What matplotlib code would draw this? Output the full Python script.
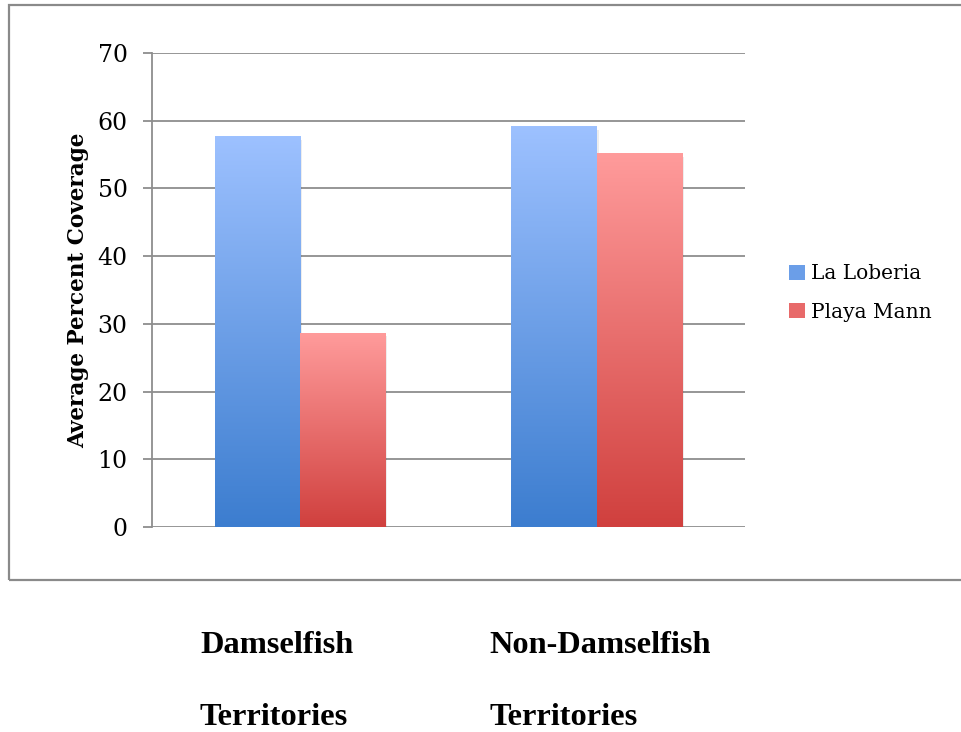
import numpy as np
import matplotlib
matplotlib.use("Agg")
import matplotlib.pyplot as plt
from matplotlib.patches import Rectangle, Patch
from matplotlib.colors import LinearSegmentedColormap

categories = ["Damselfish\n\nTerritories", "Non-Damselfish\n\nTerritories"]
series = ["La Loberia", "Playa Mann"]
la_loberia = [57.6, 59.1]
playa_mann = [28.6, 55.1]
yticks = [0, 10, 20, 30, 40, 50, 60, 70]

# top / bottom colours of each gradient
grads = {
    "La Loberia": ("#9dc1ff", "#3c7dcf"),
    "Playa Mann": ("#ff9b9b", "#d0403e"),
}

fig = plt.figure(figsize=(9.61, 7.32), dpi=100)
W, H = 961, 732

# outer chart frame
fig.patches.append(Rectangle((9 / W, 1 - 580 / H), 1.2, (575) / H,
                             transform=fig.transFigure, fill=False,
                             edgecolor="#8a8a8a", linewidth=1.6))

ax = fig.add_axes([152 / W, 1 - 527 / H, 593 / W, 474 / H])

width = 0.288
x = np.arange(len(categories))
grad = np.linspace(0, 1, 256).reshape(-1, 1)
for offs, name, vals in [(-width / 2, series[0], la_loberia),
                         (width / 2, series[1], playa_mann)]:
    top, bot = grads[name]
    cmap = LinearSegmentedColormap.from_list(name, [bot, top])
    bars = ax.bar(x + offs, vals, width, color="none", edgecolor="none", zorder=3)
    for b in bars:
        x0, w, h = b.get_x(), b.get_width(), b.get_height()
        # faint drop shadow
        ax.add_patch(Rectangle((x0 + 0.006, -0.4), w, h, facecolor="#000000",
                               alpha=0.07, edgecolor="none", zorder=2))
        ax.imshow(grad, cmap=cmap, origin="lower", aspect="auto",
                  extent=[x0, x0 + w, 0, h], zorder=3, interpolation="bilinear")
ax.set_xlim(-0.5, len(categories) - 0.5)
ax.set_ylim(0, 70)

ax.set_yticks(yticks)
ax.yaxis.grid(True, color="#8e8e8e", linewidth=1.3)
ax.set_axisbelow(True)
for s in ["top", "right", "bottom"]:
    ax.spines[s].set_visible(False)
ax.spines["left"].set_color("#8e8e8e")
ax.spines["left"].set_linewidth(1.3)
ax.tick_params(axis="y", length=6.5, width=1.3, color="#8e8e8e", pad=11,
               labelsize=17)
for t in ax.get_yticklabels():
    t.set_family("DejaVu Serif")
ax.set_xticks([])
ax.set_ylabel("Average Percent Coverage", family="DejaVu Serif",
              fontweight="bold", fontsize=15.5, labelpad=6)

handles = [Patch(facecolor="#6b9ee8"), Patch(facecolor="#e86a6a")]
fig.legend(handles, series, loc="center left", bbox_to_anchor=(771 / W, 1 - 293 / H),
           frameon=False, prop={"family": "DejaVu Serif", "size": 14.5},
           handlelength=0.8, handleheight=0.8, handletextpad=0.3,
           labelspacing=0.95)

# category labels sit below the frame
xs_lab = [200, 489]
for xl, lab in zip(xs_lab, categories):
    first, _, second = lab.split("\n")
    fig.text(xl / W, 1 - 653 / H, first, family="Liberation Serif",
             fontweight="bold", fontsize=23.3, va="baseline", ha="left")
    fig.text(xl / W, 1 - 725 / H, second, family="Liberation Serif",
             fontweight="bold", fontsize=23.3, va="baseline", ha="left")

fig.savefig("out.png", dpi=100)
